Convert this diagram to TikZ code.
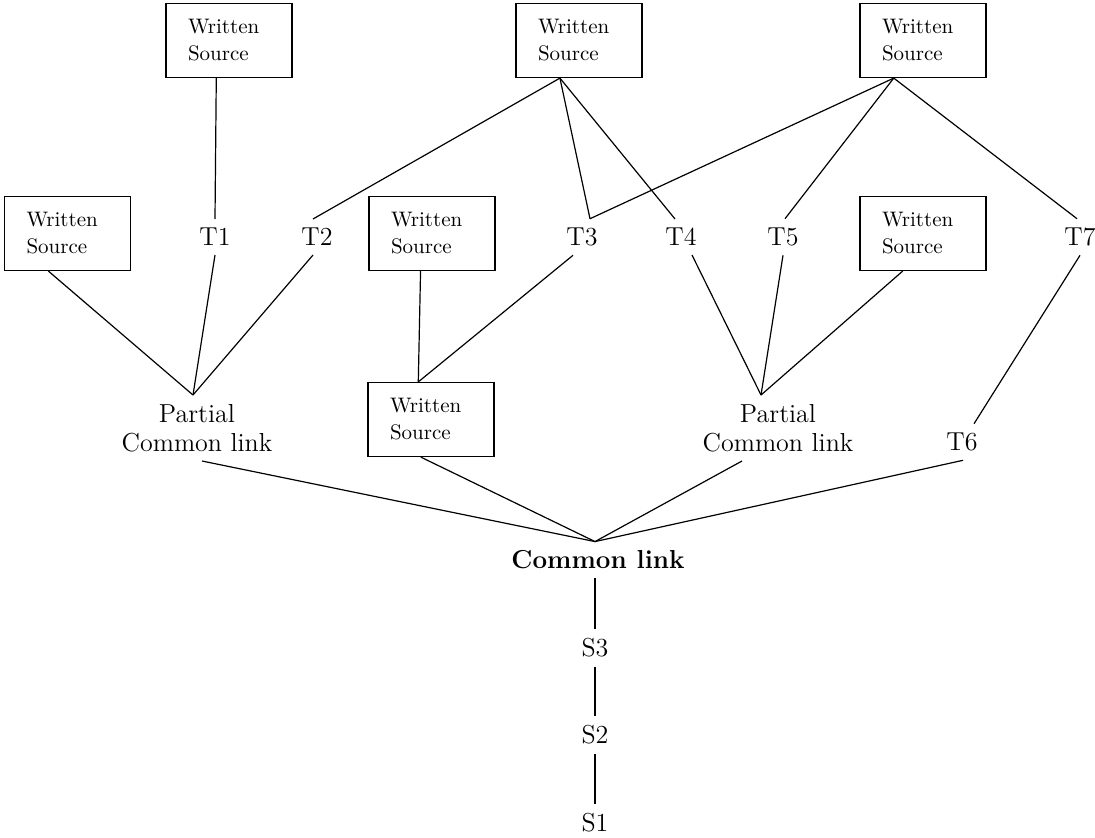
\documentclass[tikz,border=0pt]{standalone}
\usetikzlibrary{calc}
\begin{document}
\begin{tikzpicture}[x=0.5pt,y=-0.5pt,line width=0.6pt,
  src/.style={draw,line width=0.6pt,minimum width=63pt,minimum height=37pt,
    inner xsep=11pt,text width=41pt,align=left,font=\fontsize{10.5}{13.5}\selectfont},
  lbl/.style={inner sep=4.3pt,font=\fontsize{13}{14.5}\selectfont,align=center},
  boldlbl/.style={inner sep=4.3pt,font=\fontsize{13}{14.5}\selectfont\bfseries}]
\useasboundingbox (0,0) rectangle (1095,837);
% written sources
\node[src] (wsA) at (229,40.5) {Written\\Source};
\node[src] (wsB) at (579,40.5) {Written\\Source};
\node[src] (wsC) at (923,40.5) {Written\\Source};
\node[src] (wsD) at (67.5,233.5) {Written\\Source};
\node[src] (wsE) at (432,233.5) {Written\\Source};
\node[src] (wsF) at (923,233.5) {Written\\Source};
\node[src] (wsG) at (431,419.5) {Written\\Source};
% transmitters
\node[lbl] (T1) at (215,237) {T1};
\node[lbl] (T2) at (317,237) {T2};
\node[lbl] (T3) at (582,237) {T3};
\node[lbl] (T4) at (681,237) {T4};
\node[lbl] (T5) at (783,237) {T5};
\node[lbl] (T7) at (1080,237) {T7};
\node[lbl] (T6) at (962,442) {T6};
\node[lbl] (pclL) at (197,428) {Partial\\Common link};
\node[lbl] (pclR) at (778,428) {Partial\\Common link};
\node[boldlbl] (CL) at (598,560) {Common link};
\node[lbl] (S3) at (595,648) {S3};
\node[lbl] (S2) at (595,735) {S2};
\node[lbl] (S1) at (595,823) {S1};
% connectors
\draw ($(wsA.south west)!0.4!(wsA.south east)$) -- (T1.north);
\draw ($(wsB.south west)!0.35!(wsB.south east)$) -- ([xshift=-2pt]T2.north);
\draw ($(wsB.south west)!0.35!(wsB.south east)$) -- ([xshift=4pt]T3.north);
\draw ($(wsB.south west)!0.35!(wsB.south east)$) -- ([xshift=-3pt]T4.north);
\draw ($(wsC.south west)!0.27!(wsC.south east)$) -- ([xshift=4pt]T3.north);
\draw ($(wsC.south west)!0.27!(wsC.south east)$) -- ([xshift=1pt]T5.north);
\draw ($(wsC.south west)!0.27!(wsC.south east)$) -- ([xshift=-1.5pt]T7.north);
\draw ($(wsD.south west)!0.35!(wsD.south east)$) -- ([xshift=-2pt]pclL.north);
\draw (T1.south) -- ([xshift=-2pt]pclL.north);
\draw ([xshift=-2pt]T2.south) -- ([xshift=-2pt]pclL.north);
\draw ($(wsE.south west)!0.41!(wsE.south east)$) -- ($(wsG.north west)!0.4!(wsG.north east)$);
\draw ([xshift=-4.5pt]T3.south) -- ($(wsG.north west)!0.4!(wsG.north east)$);
\draw ([xshift=5.5pt]T4.south) -- ([xshift=-8.5pt]pclR.north);
\draw (T5.south) -- ([xshift=-8.5pt]pclR.north);
\draw ($(wsF.south west)!0.34!(wsF.south east)$) -- ([xshift=-8.5pt]pclR.north);
\draw (T7.south) -- ([xshift=6pt]T6.north);
\draw ([xshift=2.5pt]pclL.south) -- ([xshift=-1.5pt]CL.north);
\draw ($(wsG.south west)!0.42!(wsG.south east)$) -- ([xshift=-1.5pt]CL.north);
\draw ([xshift=-18pt]pclR.south) -- ([xshift=-1.5pt]CL.north);
\draw ([xshift=0.5pt]T6.south) -- ([xshift=-1.5pt]CL.north);
\draw ([xshift=-1.5pt]CL.south) -- (S3.north);
\draw (S3.south) -- (S2.north);
\draw (S2.south) -- (S1.north);
\end{tikzpicture}
\end{document}
